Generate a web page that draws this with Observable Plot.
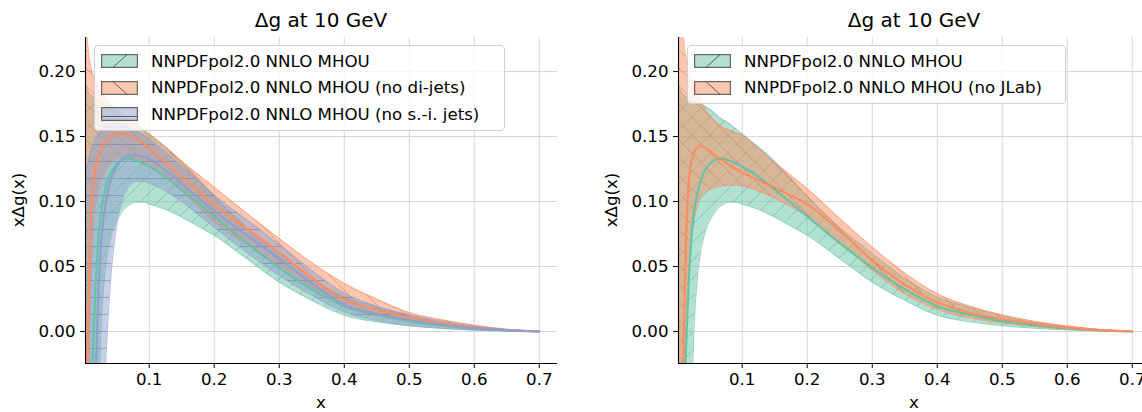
<!DOCTYPE html>
<html>
<head>
<meta charset="utf-8">
<script src="https://cdn.jsdelivr.net/npm/d3@7"></script>
<script src="https://cdn.jsdelivr.net/npm/@observablehq/plot@0.6"></script>
<style>
  html, body { margin: 0; padding: 0; }
  body { width: 1142px; height: 412px; overflow: hidden; background: #fff; position: relative;
         font-family: "DejaVu Sans", sans-serif; color: #000; }
  .panel { position: absolute; top: 0; width: 571px; height: 412px; }
  .panel svg.plot { position: absolute; left: 0; top: 0; }
  .title { position: absolute; left: 85px; width: 472px; top: 8px; text-align: center; font-size: 20px; line-height: 24px; white-space: nowrap; }
  .ylab { position: absolute; left: 18px; top: 200px; transform: translate(-50%, -50%) rotate(-90deg); font-size: 16.67px; white-space: nowrap; }
  .xlab { position: absolute; left: 321px; top: 402px; transform: translate(-50%, -50%); font-size: 16.67px; white-space: nowrap; }
  .legend { position: absolute; top: 45px; background: rgba(255,255,255,0.8); border: 1px solid #d0d0d0; border-radius: 4px; box-sizing: border-box; }
  .row { position: absolute; left: 0; height: 20px; display: flex; align-items: center; white-space: nowrap; font-size: 16.67px; }
  .row svg { margin-left: 6px; margin-right: 13px; }
</style>
</head>
<body>
<svg width="0" height="0" style="position:absolute;left:0;top:0">
  <defs>
    <pattern id="hatch-green" patternUnits="userSpaceOnUse" width="18" height="18">
      <path d="M-3,3 L3,-3 M0,18 L18,0 M15,21 L21,15" stroke="#2e8a6d" stroke-opacity="0.35" stroke-width="1"/>
    </pattern>
    <pattern id="hatch-orange" patternUnits="userSpaceOnUse" width="18" height="18">
      <path d="M-3,15 L3,21 M0,0 L18,18 M15,-3 L21,3" stroke="#c4572c" stroke-opacity="0.35" stroke-width="1"/>
    </pattern>
    <pattern id="hatch-blue" patternUnits="userSpaceOnUse" width="18" height="17">
      <path d="M0,8.5 L18,8.5" stroke="#55699c" stroke-opacity="0.4" stroke-width="1"/>
    </pattern>
  </defs>
</svg>

<div id="left" class="panel" style="left:0px"></div>
<div id="right" class="panel" style="left:593px"></div>

<script>
// ---------------- data ----------------
const xGrid = [0.002,0.004,0.006,0.008,0.01,0.0125,0.015,0.0175,0.02,0.025,0.03,0.035,0.04,0.05,0.06,0.07,0.08,0.09,0.1,0.125,0.15,0.175,0.2,0.25,0.3,0.35,0.4,0.45,0.5,0.55,0.6,0.65,0.7];

// NNPDFpol2.0 NNLO MHOU
const mhouCentral = [-0.40,-0.28,-0.19,-0.12,-0.07,-0.03,0.005,0.035,0.058,0.088,0.104,0.114,0.121,0.129,0.1325,0.133,0.1315,0.1295,0.127,0.119,0.109,0.099,0.0885,0.068,0.049,0.0325,0.0195,0.013,0.008,0.0047,0.0024,0.0009,0];
const mhouLower   = [-0.9,-0.8,-0.7,-0.6,-0.5,-0.4,-0.3,-0.2,-0.12,-0.01,0.035,0.058,0.071,0.085,0.093,0.0975,0.0995,0.0995,0.098,0.094,0.088,0.081,0.074,0.056,0.038,0.024,0.0125,0.0075,0.0045,0.0025,0.0012,0.0004,0];
const mhouUpper   = [0.19,0.187,0.185,0.183,0.182,0.181,0.18,0.179,0.178,0.177,0.176,0.175,0.174,0.171,0.167,0.163,0.16,0.156,0.152,0.142,0.131,0.118,0.104,0.08,0.06,0.041,0.0265,0.0185,0.0118,0.007,0.0036,0.0014,0];

// NNPDFpol2.0 NNLO MHOU (no di-jets)
const noDijetsCentral = [-0.35,-0.05,0.0,0.05,0.088,0.108,0.118,0.126,0.131,0.139,0.144,0.148,0.15,0.1525,0.152,0.1505,0.148,0.145,0.141,0.13,0.119,0.108,0.097,0.079,0.061,0.041,0.0245,0.0165,0.0108,0.0065,0.0033,0.0012,0];
const noDijetsLower   = [-0.9,-0.4,-0.15,-0.03,0.03,0.065,0.085,0.097,0.105,0.115,0.121,0.126,0.129,0.133,0.134,0.134,0.133,0.131,0.129,0.119,0.108,0.096,0.084,0.067,0.051,0.034,0.019,0.012,0.0075,0.004,0.0018,0.0006,0];
const noDijetsUpper   = [0.30,0.235,0.218,0.21,0.204,0.199,0.195,0.192,0.189,0.185,0.181,0.178,0.175,0.17,0.166,0.162,0.159,0.155,0.152,0.142,0.131,0.121,0.111,0.091,0.0715,0.053,0.037,0.025,0.0145,0.009,0.0048,0.0018,0];

// NNPDFpol2.0 NNLO MHOU (no s.-i. jets)
const noSiJetsCentral = [-0.9,-0.7,-0.5,-0.38,-0.28,-0.18,-0.1,-0.04,0.005,0.062,0.088,0.104,0.115,0.127,0.1335,0.1355,0.1355,0.1345,0.1325,0.124,0.1135,0.103,0.093,0.074,0.056,0.037,0.0205,0.0135,0.0088,0.0052,0.0026,0.001,0];
const noSiJetsLower   = [-1.5,-1.3,-1.1,-0.95,-0.8,-0.65,-0.5,-0.4,-0.3,-0.16,-0.06,-0.005,0.035,0.082,0.103,0.112,0.1155,0.1155,0.114,0.108,0.1,0.09,0.08,0.061,0.043,0.028,0.015,0.0085,0.0045,0.0025,0.0011,0.0004,0];
const noSiJetsUpper   = [0.118,0.125,0.13,0.134,0.138,0.142,0.145,0.148,0.15,0.154,0.157,0.158,0.159,0.16,0.159,0.157,0.1545,0.1515,0.148,0.138,0.127,0.116,0.105,0.086,0.067,0.047,0.0295,0.0195,0.0128,0.0078,0.004,0.0015,0];

// NNPDFpol2.0 NNLO MHOU (no JLab)
const noJLabCentral = [-0.6,-0.35,-0.17,-0.06,0.0,0.05,0.09,0.112,0.125,0.136,0.141,0.1425,0.142,0.139,0.135,0.1315,0.128,0.125,0.122,0.1165,0.1105,0.1045,0.098,0.0775,0.0548,0.036,0.0225,0.0145,0.0095,0.0058,0.003,0.0011,0];
const noJLabLower   = [-0.9,-0.6,-0.35,-0.15,-0.06,-0.005,0.028,0.048,0.062,0.083,0.095,0.102,0.106,0.109,0.111,0.112,0.1125,0.1125,0.112,0.108,0.1025,0.096,0.089,0.069,0.047,0.029,0.017,0.0105,0.0066,0.0038,0.0019,0.0007,0];
const noJLabUpper   = [0.4,0.3,0.26,0.24,0.225,0.213,0.205,0.2,0.196,0.19,0.184,0.179,0.174,0.166,0.161,0.157,0.155,0.153,0.151,0.141,0.13,0.12,0.11,0.087,0.065,0.045,0.029,0.0195,0.0128,0.0078,0.0042,0.0016,0];

const xTicks = [0.1,0.2,0.3,0.4,0.5,0.6,0.7];
const yTicks = [0.00,0.05,0.10,0.15,0.20];
const xDomain = [0.002, 0.728];
const yDomain = [-0.0246, 0.2262];
const titleText = "Δg at 10 GeV";
const xLabel = "x";
const yLabel = "xΔg(x)";

const labelsLeft  = ["NNPDFpol2.0 NNLO MHOU","NNPDFpol2.0 NNLO MHOU (no di-jets)","NNPDFpol2.0 NNLO MHOU (no s.-i. jets)"];
const labelsRight = ["NNPDFpol2.0 NNLO MHOU","NNPDFpol2.0 NNLO MHOU (no JLab)"];

// ---------------- styles ----------------
const GREEN = "#66c2a5", ORANGE = "#fc8d62", BLUE = "#8da0cb";
const seriesMHOU   = {c: mhouCentral, lo: mhouLower, hi: mhouUpper, color: GREEN, hatch: "hatch-green", kind: "/"};
const seriesNoDij  = {c: noDijetsCentral, lo: noDijetsLower, hi: noDijetsUpper, color: ORANGE, hatch: "hatch-orange", kind: "\\"};
const seriesNoSi   = {c: noSiJetsCentral, lo: noSiJetsLower, hi: noSiJetsUpper, color: BLUE, hatch: "hatch-blue", kind: "-"};
const seriesNoJLab = {c: noJLabCentral, lo: noJLabLower, hi: noJLabUpper, color: ORANGE, hatch: "hatch-orange", kind: "\\"};

function table(s) {
  return xGrid.map((x, i) => ({x, c: s.c[i], lo: s.lo[i], hi: s.hi[i]}));
}

function makePanel(el, series, labels, legendWidth) {
  const marks = [
    Plot.gridX(xTicks, {stroke: "#d6d6d6", strokeOpacity: 1, strokeWidth: 1}),
    Plot.gridY(yTicks, {stroke: "#d6d6d6", strokeOpacity: 1, strokeWidth: 1})
  ];
  const curve = "monotone-x";
  for (const s of series) {
    const d = table(s);
    marks.push(Plot.areaY(d, {x: "x", y1: "lo", y2: "hi", fill: s.color, fillOpacity: 0.5, curve, clip: true}));
    marks.push(Plot.areaY(d, {x: "x", y1: "lo", y2: "hi", fill: `url(#${s.hatch})`, curve, clip: true}));
    marks.push(Plot.lineY(d, {x: "x", y: "lo", stroke: s.color, strokeWidth: 1, strokeOpacity: 0.75, curve, clip: true}));
    marks.push(Plot.lineY(d, {x: "x", y: "hi", stroke: s.color, strokeWidth: 1, strokeOpacity: 0.75, curve, clip: true}));
  }
  for (const s of series) {
    marks.push(Plot.lineY(table(s), {x: "x", y: "c", stroke: s.color, strokeWidth: 2.1, curve, clip: true}));
  }
  // spines (left and bottom only)
  marks.push(Plot.ruleX([xDomain[0]], {stroke: "#000", strokeWidth: 1.1}));
  marks.push(Plot.ruleY([yDomain[0]], {stroke: "#000", strokeWidth: 1.1}));
  marks.push(Plot.axisX(xTicks, {tickFormat: d3.format(".1f"), tickSize: 5, tickPadding: 5, label: null}));
  marks.push(Plot.axisY(yTicks, {tickFormat: d3.format(".2f"), tickSize: 5, tickPadding: 5, label: null}));

  const svg = Plot.plot({
    width: 571, height: 412,
    marginTop: 37, marginBottom: 49, marginLeft: 85, marginRight: 14,
    x: {domain: xDomain},
    y: {domain: yDomain},
    style: {fontFamily: "DejaVu Sans, sans-serif", fontSize: "16.67px", color: "#000", background: "transparent", overflow: "visible"},
    marks
  });
  svg.classList.add("plot");
  el.appendChild(svg);

  const t = document.createElement("div"); t.className = "title"; t.textContent = titleText; el.appendChild(t);
  const yl = document.createElement("div"); yl.className = "ylab"; yl.textContent = yLabel; el.appendChild(yl);
  const xl = document.createElement("div"); xl.className = "xlab"; xl.textContent = xLabel; el.appendChild(xl);

  // legend
  const lg = document.createElement("div");
  lg.className = "legend";
  lg.style.left = "94px";
  lg.style.width = legendWidth + "px";
  lg.style.height = (series.length * 26.5 + 6) + "px";
  series.forEach((s, i) => {
    const row = document.createElement("div");
    row.className = "row";
    row.style.top = (5 + i * 26.5) + "px";
    const ns = "http://www.w3.org/2000/svg";
    const sw = document.createElementNS(ns, "svg");
    sw.setAttribute("width", 37); sw.setAttribute("height", 14);
    const r = document.createElementNS(ns, "rect");
    r.setAttribute("x", 0.6); r.setAttribute("y", 0.6); r.setAttribute("width", 35.8); r.setAttribute("height", 12.8);
    r.setAttribute("fill", s.color); r.setAttribute("fill-opacity", 0.5);
    r.setAttribute("stroke", "#3a3a3a"); r.setAttribute("stroke-opacity", 0.75); r.setAttribute("stroke-width", 1.2);
    sw.appendChild(r);
    const h = document.createElementNS(ns, "path");
    const pd = s.kind === "/" ? "M12,13.4 L26,0.6" : s.kind === "\\" ? "M12,0.6 L26,13.4" : "M0.6,9.5 L36.4,9.5";
    h.setAttribute("d", pd); h.setAttribute("stroke", "#3a3a3a"); h.setAttribute("stroke-opacity", 0.75); h.setAttribute("stroke-width", 1);
    sw.appendChild(h);
    row.appendChild(sw);
    const tx = document.createElement("span"); tx.textContent = labels[i];
    row.appendChild(tx);
    lg.appendChild(row);
  });
  el.appendChild(lg);
}

makePanel(document.getElementById("left"), [seriesMHOU, seriesNoDij, seriesNoSi], labelsLeft, 411);
makePanel(document.getElementById("right"), [seriesMHOU, seriesNoJLab], labelsRight, 379);
</script>
</body>
</html>
